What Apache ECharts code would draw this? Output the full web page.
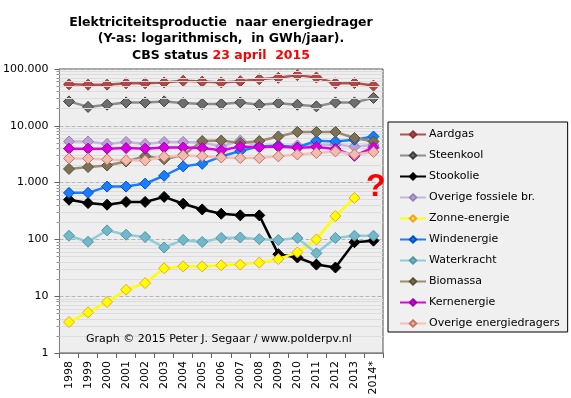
<!DOCTYPE html>
<html lang="nl">
<head>
<meta charset="UTF-8">
<title>Elektriciteitsproductie naar energiedrager</title>
<script src="https://cdn.jsdelivr.net/npm/echarts@6/dist/echarts.min.js"></script>
<style>
  * { margin: 0; padding: 0; }
  html, body { background: #fff; }
  #chart { width: 571px; height: 398px; }
</style>
</head>
<body>
<div id="chart"></div>
<script>
// Jaren (2014 = voorlopig)
const years = ['1998', '1999', '2000', '2001', '2002', '2003', '2004', '2005', '2006',
  '2007', '2008', '2009', '2010', '2011', '2012', '2013', '2014*'];

// Productie in GWh
const aardgas = [53700, 53000, 53000, 56000, 56000, 58000, 62000, 60000, 58000, 61000, 66000, 70000, 78000, 71000, 56000, 56500, 51000];
const steenkool = [26900, 21500, 23500, 25800, 25800, 26900, 25200, 24200, 24200, 25800, 23500, 25000, 23500, 22000, 25800, 25800, 31000];
const stookolie = [500, 436, 408, 457, 457, 560, 425, 337, 283, 265, 265, 55, 48, 36, 32, 89, 95];
const overigeFossiel = [5300, 5300, 4800, 5200, 4800, 5200, 5200, 5100, 4300, 5500, 4400, 4300, 4500, 4600, 4700, 4300, 4600];
const zonne = [3.5, 5.2, 7.9, 13, 17, 31, 33.5, 33.5, 35, 36, 39, 45, 59, 100, 257, 537, null];
const wind = [660, 660, 850, 850, 960, 1320, 1930, 2140, 2900, 3600, 4340, 4520, 4160, 5450, 5300, 5690, 6470];
const waterkracht = [116, 91, 144, 121, 110, 72, 98, 90, 106, 108, 101, 98, 106, 57, 106, 116, 116];
const biomassa = [1740, 1880, 2000, 2350, 2930, 2580, 3060, 5400, 5500, 5000, 5400, 6500, 7800, 7800, 7800, 6100, 5300];
const kern = [3960, 3960, 3960, 4050, 3960, 4140, 4150, 4050, 3700, 4300, 4200, 4300, 4100, 4250, 3900, 2960, 4150];
const overigeEd = [2660, 2660, 2560, 2480, 2450, 2860, 3000, 2920, 2770, 2700, 2700, 2900, 3130, 3330, 3540, 3130, 3470];

// As-labels (Nederlandse notatie)
const yTickValues = [1, 10, 100, 1000, 10000, 100000];
const yTickLabels = ['1', '10', '100', '1.000', '10.000', '100.000'];

const FONT = '"DejaVu Sans", Verdana, sans-serif';

// naam, data, lijnkleur, vulkleur marker, randkleur marker
const seriesDefs = [
  ['Aardgas', aardgas, '#b5514f', '#b04848', '#8a3535'],
  ['Steenkool', steenkool, '#8c8c8c', '#6e6e6e', '#3c3c3c'],
  ['Stookolie', stookolie, '#000000', '#000000', '#000000'],
  ['Overige fossiele br.', overigeFossiel, '#c8b4dc', '#b8a2d4', '#9880b0'],
  ['Zonne-energie', zonne, '#ffff00', '#ffff00', '#f0a030'],
  ['Windenergie', wind, '#1a7cff', '#1a7cff', '#0050c0'],
  ['Waterkracht', waterkracht, '#90ccd8', '#72b8c8', '#4e96a8'],
  ['Biomassa', biomassa, '#9a8c70', '#7c7256', '#5a5038'],
  ['Kernenergie', kern, '#e000e8', '#d800e0', '#a000a8'],
  ['Overige energiedragers', overigeEd, '#f2c0b8', '#eebcb0', '#c87060']
];

// fijne rasterlijnen / tussenstreepjes op 2..9 x 10^k
const minorValues = [];
for (let k = 0; k < 5; k++) {
  for (let m = 2; m <= 9; m++) minorValues.push(m * Math.pow(10, k));
}

const series = seriesDefs.map(([name, data, line, fill, border], i) => ({
  name,
  type: 'line',
  data,
  z: 3 + i,
  symbol: 'diamond',
  symbolSize: 11,
  showAllSymbol: true,
  connectNulls: false,
  lineStyle: { color: line, width: 2.5 },
  itemStyle: { color: fill, borderColor: border, borderWidth: 1 },
  emphasis: { disabled: true }
}));

// onzichtbare reeks die alleen het fijne raster draagt
series.unshift({
  name: '_raster',
  type: 'line',
  data: [],
  z: 1,
  silent: true,
  markLine: {
    silent: true,
    symbol: 'none',
    label: { show: false },
    lineStyle: { color: '#dcdcdc', type: 'solid', width: 1 },
    data: minorValues.map(v => ({ yAxis: v }))
  }
});

const chart = echarts.init(document.getElementById('chart'), null, { renderer: 'canvas' });

chart.setOption({
  animation: false,
  backgroundColor: '#ffffff',
  textStyle: { fontFamily: FONT },
  title: {
    left: 216,
    top: 9,
    textAlign: 'center',
    text: '{b|Elektriciteitsproductie  naar energiedrager}\n{b|(Y-as: logarithmisch,  in GWh/jaar).}\n{b|CBS status }{r|23 april  2015}',
    textStyle: {
      rich: {
        b: { fontFamily: FONT, fontWeight: 'bold', fontSize: 12.5, color: '#000', lineHeight: 16.5 },
        r: { fontFamily: FONT, fontWeight: 'bold', fontSize: 12.5, color: '#ff0000', lineHeight: 16.5 }
      }
    }
  },
  legend: {
    orient: 'vertical',
    left: 388,
    top: 122,
    data: seriesDefs.map(d => d[0]),
    backgroundColor: '#f0f0f0',
    borderColor: '#000',
    borderWidth: 1,
    padding: [6, 8, 2, 11],
    itemWidth: 26,
    itemHeight: 8,
    itemGap: 8,
    selectedMode: false,
    textStyle: { fontFamily: FONT, fontSize: 11, color: '#000', lineHeight: 13, padding: [0, 0, 0, -2] }
  },
  grid: {
    left: 58,
    right: 188,
    top: 69,
    bottom: 45,
    show: true,
    backgroundColor: '#eeeeee',
    borderColor: '#505050',
    borderWidth: 1
  },
  xAxis: {
    type: 'category',
    data: years,
    boundaryGap: true,
    axisLine: { lineStyle: { color: '#808080' } },
    axisTick: { show: true, interval: 0, length: 5, lineStyle: { color: '#606060' } },
    axisLabel: { interval: 0, rotate: 90, fontSize: 11, color: '#000', margin: 8, fontFamily: FONT },
    splitLine: { show: false }
  },
  yAxis: [
    {
      type: 'log',
      logBase: 10,
      min: 1,
      max: 100000,
      position: 'left',
      axisLine: { show: true, lineStyle: { color: '#808080' } },
      axisTick: { show: true, length: 5, lineStyle: { color: '#606060' } },
      axisLabel: {
        fontSize: 11,
        color: '#000',
        margin: 11,
        fontFamily: FONT,
        formatter: v => {
          const i = yTickValues.findIndex(t => Math.abs(t - v) < t * 1e-6);
          return i >= 0 ? yTickLabels[i] : '';
        }
      },
      splitLine: { show: true, lineStyle: { color: '#b4b4b4', type: 'dashed', width: 1 } }
    },
    {
      // alleen de tussenstreepjes links van de as
      type: 'log',
      logBase: 10,
      min: 1,
      max: 100000,
      position: 'left',
      offset: 0,
      axisLine: { show: false },
      axisLabel: { show: false },
      splitLine: { show: false },
      axisTick: { show: true, length: 3, customValues: minorValues, lineStyle: { color: '#909090' } }
    }
  ],
  graphic: [
    {
      type: 'text',
      left: 86,
      top: 334,
      z: 100,
      style: { text: 'Graph © 2015 Peter J. Segaar / www.polderpv.nl', font: '11px ' + FONT, fill: '#000' }
    },
    {
      type: 'text',
      left: 366,
      top: 171,
      z: 100,
      style: { text: '?', font: 'bold 32px "Liberation Sans", Arial, sans-serif', fill: '#ff0000' }
    }
  ],
  series
});
</script>
</body>
</html>
